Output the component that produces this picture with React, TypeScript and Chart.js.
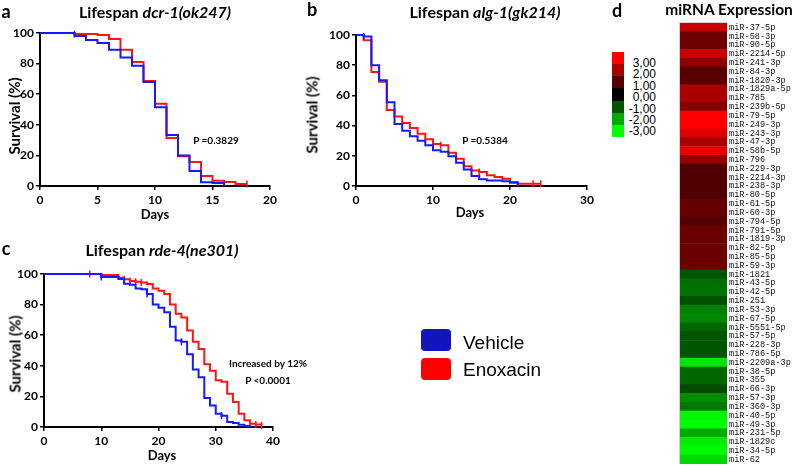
import React, { useEffect, useRef } from 'react';
import { Chart, registerables } from 'chart.js';

Chart.register(...registerables);

// ---------- Data ----------
// Panel a: dcr-1(ok247)
const dcrVehicleDays = [0, 3, 4, 5, 6, 7, 8, 9, 10, 11, 12, 13, 14, 15, 16];
const dcrVehicleSurv = [100, 98, 95.5, 93.5, 89, 84, 78.6, 68, 51.4, 33.3, 20, 9.8, 2.4, 2, 0];
const dcrEnoxDays = [0, 3, 5, 6, 7, 8, 9, 10, 11, 12, 13, 14, 15, 16, 17, 18];
const dcrEnoxSurv = [100, 99.3, 98.7, 96, 89, 81, 68.6, 53.8, 31.4, 19.4, 15.7, 6.5, 3.5, 2.6, 1.3, 1.3];
const dcrVehicleCensorDays: number[] = [];
const dcrVehicleCensorSurv: number[] = [];
const dcrEnoxCensorDays = [3, 18];
const dcrEnoxCensorSurv = [99.3, 1.3];

// Panel b: alg-1(gk214)
const algVehicleDays = [0, 1, 2, 3, 4, 5, 6, 7, 8, 9, 10, 11, 12, 13, 14, 15, 16, 17, 19, 20, 21];
const algVehicleSurv = [100, 99, 80, 70, 55.5, 41, 36.6, 33, 30, 27, 23.7, 22.6, 19.7, 15.4, 11, 6.6, 4.4, 3.7, 3.1, 2.2, 0];
const algEnoxDays = [0, 1, 2, 3, 4, 5, 6, 7, 8, 9, 10, 11, 12, 13, 14, 15, 16, 17, 18, 19, 20, 21, 24];
const algEnoxSurv = [100, 96.5, 75.5, 69, 50.4, 46, 41.7, 38.4, 34.6, 31, 27.8, 27, 22, 18, 13, 10.3, 9.2, 7.2, 5.9, 4.8, 2.6, 1.5, 1.5];
const algVehicleCensorDays = [1];
const algVehicleCensorSurv = [99];
const algEnoxCensorDays = [11, 16, 23, 24];
const algEnoxCensorSurv = [27, 9.2, 1.5, 1.5];

// Panel c: rde-4(ne301)
const rdeVehicleDays = [0, 10, 13, 14, 15, 16, 17, 18, 19, 20, 21, 22, 23, 24, 25, 26, 27, 28, 29, 30, 31, 32, 33, 34, 35, 36];
const rdeVehicleSurv = [100, 98, 96.7, 93.7, 93, 90.6, 90, 87, 80, 78, 75, 65.5, 56.5, 55.7, 47.6, 37.6, 32.5, 19, 14, 8.7, 7.4, 3.3, 2.6, 1.5, 0.7, 0];
const rdeEnoxDays = [0, 10, 13, 14, 15, 16, 17, 18, 19, 20, 21, 22, 23, 24, 25, 26, 27, 28, 29, 30, 31, 32, 33, 34, 35, 36, 37, 38];
const rdeEnoxSurv = [100, 99.3, 97.5, 96.5, 95.5, 95, 94.5, 93.5, 90.6, 89, 87, 80, 74, 71.6, 63, 55.7, 51, 41, 36.7, 30.5, 29.5, 21.8, 16.4, 8.7, 4.4, 2.2, 1.7, 1];
const rdeVehicleCensorDays = [10, 18, 24, 31];
const rdeVehicleCensorSurv = [98, 87, 55.7, 7.4];
const rdeEnoxCensorDays = [8, 14, 15, 16, 17, 36, 37, 38];
const rdeEnoxCensorSurv = [100, 96.5, 95.5, 95, 94.5, 2.2, 1.7, 1];

// Panel d: miRNA expression heatmap
const mirnaNames = [
  'miR-37-5p', 'miR-58-3p', 'miR-90-5p', 'miR-2214-5p', 'miR-241-3p', 'miR-84-3p', 'miR-1820-3p',
  'miR-1829a-5p', 'miR-785', 'miR-239b-5p', 'miR-79-5p', 'miR-249-3p', 'miR-243-3p', 'miR-47-3p',
  'miR-58b-5p', 'miR-796', 'miR-229-3p', 'miR-2214-3p', 'miR-238-3p', 'miR-80-5p', 'miR-61-5p',
  'miR-60-3p', 'miR-794-5p', 'miR-791-5p', 'miR-1819-3p', 'miR-82-5p', 'miR-85-5p', 'miR-59-3p',
  'miR-1821', 'miR-43-5p', 'miR-42-5p', 'miR-251', 'miR-53-3p', 'miR-67-5p', 'miR-5551-5p',
  'miR-57-5p', 'miR-228-3p', 'miR-786-5p', 'miR-2209a-3p', 'miR-38-5p', 'miR-355', 'miR-66-3p',
  'miR-57-3p', 'miR-360-3p', 'miR-40-5p', 'miR-49-3p', 'miR-231-5p', 'miR-1829c', 'miR-34-5p', 'miR-62',
];
const mirnaExpression = [
  2.35, 1.3, 1.3, 2.35, 1.65, 1.05, 1.05, 2.0, 2.0, 1.55,
  3.0, 3.0, 2.65, 2.0, 2.7, 1.75, 0.95, 0.95, 0.95, 0.95,
  1.2, 1.2, 1.0, 1.25, 1.25, 1.25, 1.25, 1.25,
  -1.0, -1.3, -1.35, -0.95, -1.5, -1.6, -1.2, -1.0, -1.0, -1.0,
  -2.7, -1.2, -1.2, -0.9, -1.65, -1.45, -2.9, -3.0, -2.0, -2.8, -2.95, -2.55,
];
const scaleLabels = ['3,00', '2,00', '1,00', '0,00', '-1,00', '-2,00', '-3,00'];
const scaleValues = [3, 2, 1, 0, -1, -2, -3];

// ---------- Styles ----------
const FONT = 'Lato, "Open Sans", sans-serif';
const BLUE = 'rgb(25,25,255)';
const RED = 'rgb(255,20,20)';

function heatColor(v: number) {
  const c = Math.max(0, Math.min(255, Math.round(Math.abs(v) * 85)));
  return v >= 0 ? `rgb(${c},0,0)` : `rgb(0,${c},0)`;
}

type Series = { days: number[]; surv: number[]; cDays: number[]; cSurv: number[]; color: string };

function SurvivalChart(props: {
  left: number; top: number; width: number; height: number;
  pad: { left: number; top: number; right: number; bottom: number };
  yW: number; xH: number; xMax: number; xStep: number; series: Series[];
}) {
  const ref = useRef<HTMLCanvasElement>(null);
  useEffect(() => {
    const datasets: any[] = [];
    props.series.forEach((s) => {
      datasets.push({
        data: s.days.map((d, i) => ({ x: d, y: s.surv[i] })),
        borderColor: s.color, borderWidth: 2, stepped: true, pointRadius: 0, fill: false, clip: false,
      });
      datasets.push({
        data: s.cDays.map((d, i) => ({ x: d, y: s.cSurv[i] })),
        showLine: false, pointStyle: 'line', rotation: 90, pointRadius: 3.5,
        borderColor: s.color, backgroundColor: s.color, borderWidth: 1.5, clip: false,
      });
    });
    const tickFont = { family: FONT, size: 12, weight: 'bold' as const };
    const grid = { display: true, drawOnChartArea: false, drawTicks: true, tickLength: 4, color: '#000', lineWidth: 1.5 };
    const border = { display: true, color: '#000', width: 2 };
    const chart = new Chart(ref.current as HTMLCanvasElement, {
      type: 'line',
      data: { datasets },
      options: {
        animation: false, responsive: false, devicePixelRatio: 1, events: [],
        layout: { padding: props.pad },
        plugins: { legend: { display: false }, tooltip: { enabled: false } },
        scales: {
          x: {
            type: 'linear', min: 0, max: props.xMax,
            ticks: { stepSize: props.xStep, color: '#000', font: tickFont, padding: 3, maxRotation: 0 },
            grid, border,
            afterFit: (s: any) => { s.height = props.xH; s.paddingLeft = 0; s.paddingRight = 0; },
          },
          y: {
            type: 'linear', min: 0, max: 100,
            ticks: { stepSize: 20, color: '#000', font: tickFont, padding: 2 },
            grid, border,
            afterFit: (s: any) => { s.width = props.yW; s.paddingTop = 0; s.paddingBottom = 0; },
          },
        },
      } as any,
    });
    return () => chart.destroy();
  }, []);
  return (
    <canvas ref={ref} width={props.width} height={props.height}
      style={{ position: 'absolute', left: props.left, top: props.top, width: props.width, height: props.height }} />
  );
}

function Heatmap() {
  const ref = useRef<HTMLCanvasElement>(null);
  useEffect(() => {
    const chart = new Chart(ref.current as HTMLCanvasElement, {
      type: 'bar',
      data: {
        labels: mirnaNames,
        datasets: [{
          data: mirnaNames.map(() => 1),
          backgroundColor: mirnaExpression.map(heatColor),
          borderWidth: 0, barPercentage: 1, categoryPercentage: 1,
        }],
      },
      options: {
        indexAxis: 'y', animation: false, responsive: false, devicePixelRatio: 1, events: [],
        layout: { padding: { top: 5, bottom: 4, left: 0, right: 0 } },
        plugins: { legend: { display: false }, tooltip: { enabled: false } },
        scales: {
          x: { display: false, min: 0, max: 1 },
          y: {
            position: 'right',
            grid: { display: false, drawTicks: false, tickLength: 0 }, border: { display: false },
            ticks: { autoSkip: false, color: '#111', font: { family: '"Liberation Mono", monospace', size: 8.6 }, padding: 2 },
            afterFit: (s: any) => { s.width = 69; s.paddingTop = 0; s.paddingBottom = 0; },
          },
        },
      } as any,
    });
    return () => chart.destroy();
  }, []);
  return (
    <canvas ref={ref} width={116} height={450}
      style={{ position: 'absolute', left: 680, top: 18, width: 116, height: 450 }} />
  );
}

function Txt(props: { x: number; y: number; size: number; bold?: boolean; rotate?: boolean; family?: string; align?: 'center' | 'left' | 'right'; children: React.ReactNode }) {
  const align = props.align || 'center';
  const tx = align === 'center' ? '-50%' : align === 'left' ? '0' : '-100%';
  return (
    <div style={{
      position: 'absolute', left: props.x, top: props.y, whiteSpace: 'nowrap',
      fontFamily: props.family || FONT, fontSize: props.size, fontWeight: props.bold ? 700 : 400,
      lineHeight: 1, color: '#000',
      transform: `translate(${tx},-50%)` + (props.rotate ? ' rotate(-90deg)' : ''),
    }}>{props.children}</div>
  );
}

export default function App() {
  useEffect(() => { document.body.style.margin = '0'; }, []);
  return (
    <div style={{ position: 'relative', width: 796, height: 466, background: '#fff', overflow: 'hidden' }}>
      {/* Panel a */}
      <SurvivalChart left={0} top={20} width={290} height={200}
        pad={{ left: 0, top: 13, right: 20, bottom: 4 }} yW={40} xH={30} xMax={20} xStep={5}
        series={[
          { days: dcrVehicleDays, surv: dcrVehicleSurv, cDays: dcrVehicleCensorDays, cSurv: dcrVehicleCensorSurv, color: BLUE },
          { days: dcrEnoxDays, surv: dcrEnoxSurv, cDays: dcrEnoxCensorDays, cSurv: dcrEnoxCensorSurv, color: RED },
        ]} />
      <Txt x={6} y={11} size={18} bold>a</Txt>
      <Txt x={155} y={12} size={16} bold>Lifespan <i>dcr-1(ok247)</i></Txt>
      <Txt x={14} y={116} size={15} bold rotate>Survival (%)</Txt>
      <Txt x={155} y={214} size={13} bold>Days</Txt>
      <Txt x={216} y={140} size={10} bold>P =0.3829</Txt>

      {/* Panel b */}
      <SurvivalChart left={300} top={20} width={300} height={200}
        pad={{ left: 0, top: 15, right: 13, bottom: 4 }} yW={56} xH={30} xMax={30} xStep={10}
        series={[
          { days: algVehicleDays, surv: algVehicleSurv, cDays: algVehicleCensorDays, cSurv: algVehicleCensorSurv, color: BLUE },
          { days: algEnoxDays, surv: algEnoxSurv, cDays: algEnoxCensorDays, cSurv: algEnoxCensorSurv, color: RED },
        ]} />
      <Txt x={312} y={9} size={18} bold>b</Txt>
      <Txt x={485} y={12} size={16} bold>Lifespan <i>alg-1(gk214)</i></Txt>
      <Txt x={312} y={115} size={15} bold rotate>Survival (%)</Txt>
      <Txt x={470} y={212} size={13} bold>Days</Txt>
      <Txt x={485} y={140} size={10} bold>P =0.5384</Txt>

      {/* Panel c */}
      <SurvivalChart left={0} top={260} width={290} height={200}
        pad={{ left: 0, top: 14, right: 17, bottom: 3 }} yW={44} xH={30} xMax={40} xStep={10}
        series={[
          { days: rdeVehicleDays, surv: rdeVehicleSurv, cDays: rdeVehicleCensorDays, cSurv: rdeVehicleCensorSurv, color: BLUE },
          { days: rdeEnoxDays, surv: rdeEnoxSurv, cDays: rdeEnoxCensorDays, cSurv: rdeEnoxCensorSurv, color: RED },
        ]} />
      <Txt x={6} y={248} size={18} bold>c</Txt>
      <Txt x={162} y={250} size={16} bold>Lifespan <i>rde-4(ne301)</i></Txt>
      <Txt x={15} y={354} size={15} bold rotate>Survival (%)</Txt>
      <Txt x={162} y={455} size={13} bold>Days</Txt>
      <Txt x={268} y={363} size={10} bold>Increased by 12%</Txt>
      <Txt x={268} y={380} size={10} bold>P &lt;0.0001</Txt>

      {/* Legend */}
      <div style={{ position: 'absolute', left: 421, top: 329, width: 30, height: 22, borderRadius: 4, background: 'rgb(20,20,190)' }} />
      <div style={{ position: 'absolute', left: 421, top: 358, width: 30, height: 22, borderRadius: 4, background: 'rgb(255,0,0)' }} />
      <Txt x={463} y={342} size={19} align="left" family='"Liberation Sans", Arial, sans-serif'>Vehicle</Txt>
      <Txt x={463} y={369} size={19} align="left" family='"Liberation Sans", Arial, sans-serif'>Enoxacin</Txt>

      {/* Panel d */}
      <Txt x={617} y={10} size={18} bold>d</Txt>
      <Txt x={729} y={10} size={15.5} bold>miRNA Expression</Txt>
      {scaleValues.map((v, i) => (
        <div key={'b' + i} style={{ position: 'absolute', left: 612, top: 52 + i * 12.14, width: 12, height: 12.5, background: heatColor(v) }} />
      ))}
      {scaleLabels.map((l, i) => (
        <Txt key={'l' + i} x={656} y={63 + i * 11.4} size={12} align="right" family='"Liberation Sans", Arial, sans-serif'>{l}</Txt>
      ))}
      <div style={{ position: 'absolute', left: 679, top: 22, width: 48, height: 442, border: '1px solid rgba(220,190,190,0.8)', boxSizing: 'border-box' }} />
      <Heatmap />
    </div>
  );
}
